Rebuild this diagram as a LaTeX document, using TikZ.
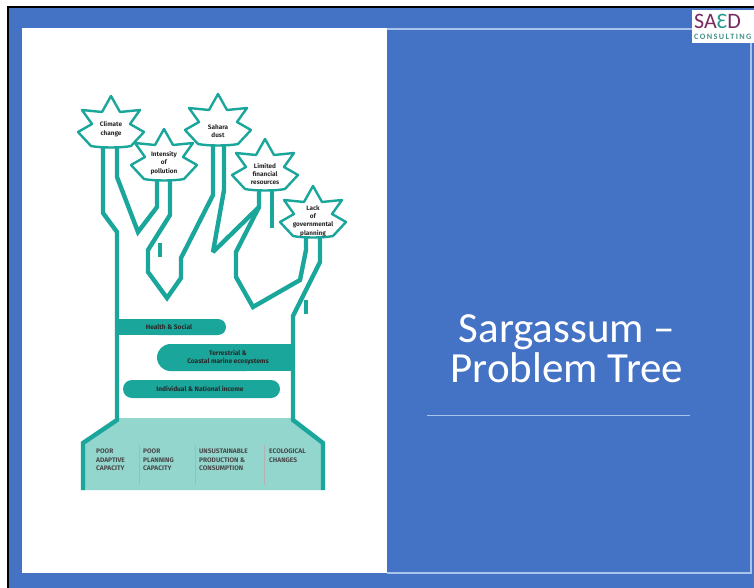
\documentclass[tikz,border=0pt]{standalone}
\usepackage{fontspec}
\setmainfont{Carlito}
\newfontfamily\treefont{Fira Sans}
\usetikzlibrary{calc}
\definecolor{slideblue}{HTML}{4472C4}
\definecolor{framelight}{HTML}{A9C4EA}
\definecolor{teal}{HTML}{1AA69B}
\definecolor{paleteal}{HTML}{92D6CE}
\definecolor{inkdark}{HTML}{2A2A2A}
\definecolor{logopurple}{HTML}{7A2A5E}
\definecolor{logoteal}{HTML}{2A9A8E}
\tikzset{
  branch/.style={draw=teal, line width=4.4pt, line join=miter, miter limit=3},
  leafline/.style={draw=teal, fill=white, line width=2.4pt, line join=round},
  bar/.style={fill=teal},
  leaftext/.style={font=\treefont\bfseries\fontsize{6.4}{8.4}\selectfont, text=inkdark, align=center, inner sep=0pt},
  bartext/.style={font=\treefont\bfseries\fontsize{6.6}{8.6}\selectfont, text=inkdark, align=center, inner sep=0pt},
  basetext/.style={font=\treefont\bfseries\fontsize{6.6}{8.3}\selectfont, text=inkdark!85, align=left, anchor=north west, inner sep=0pt},
  sep/.style={draw=gray!60, line width=0.6pt},
  titletext/.style={text=white, font=\fontsize{43}{43}\selectfont, anchor=base, inner sep=0pt}
}
% maple-like leaf outline around a centre point
\newcommand{\leafshape}[2]{%
  \path[leafline, shift={(#1,#2)}]
    (0,-33) -- (9,-17) -- (29,-19) -- (19,-5) -- (33,3) -- (20,17)
    .. controls (10,19) and (-10,19) .. (-20,17)
    -- (-33,3) -- (-19,-5) -- (-29,-19) -- (-9,-17) -- cycle;}
\begin{document}
\begin{tikzpicture}[x=1pt,y=-1pt]
\useasboundingbox (0,0) rectangle (754,588);
% slide frame
\fill[white] (0,0) rectangle (754,588);
\fill[slideblue] (9,8) rectangle (754,588);
\draw[black, line width=2pt] (8,588) -- (8,7) -- (754,7);
\fill[white] (22,28) rectangle (387,573);
\draw[framelight, line width=1.2pt] (387,29) -- (751,29) -- (751,573) -- (387,573);
% logo
\fill[white] (692,10) rectangle (760,43);
\node[anchor=base west, inner sep=0pt, text=logopurple, font=\fontsize{22}{22}\selectfont] (logoA) at (694,29) {SA\textcolor{logoteal}{Ɛ}D};
\node[anchor=base west, inner sep=0pt, text=logoteal!70!gray, font=\fontsize{8.2}{9}\selectfont\bfseries] (logoB) at (694,40) {C\,O\,N\,S\,U\,L\,T\,I\,N\,G};
% title
\node[titletext] (title1) at (567,342.5) {Sargassum –};
\node[titletext] (title2) at (567,382.5) {Problem Tree};
\draw[framelight, line width=0.8pt] (427,415) -- (690,415);

% ---- tree ----
% ground band
\fill[paleteal] (117,418) -- (293,418) -- (323,442) -- (323,490) -- (83,490) -- (83,442) -- cycle;
% trunk outlines
\draw[branch] (103,146) -- (103,213) -- (117,232) -- (117,420) -- (83,443) -- (83,490);
\draw[branch] (320,236) -- (320,262) -- (293,316) -- (293,420) -- (323,443) -- (323,490);
\draw[branch] (306,300) -- (306,314);
% inner branch outlines
\draw[branch] (117,146) -- (117,177) -- (138,232) -- (157,207) -- (157,179);
\draw[branch] (170,179) -- (170,215) -- (148,250) -- (148,272) -- (167,298) -- (181,278) -- (181,258) -- (213,195) -- (213,144);
\draw[branch] (160,243) -- (160,257);
\draw[branch] (224,144) -- (224,190) -- (213,252) -- (259,207) -- (259,189);
\draw[branch] (272,189) -- (272,228);
\draw[branch] (259,207) -- (236,252) -- (236,277) -- (253,307) -- (300,280) -- (306,250) -- (306,236);
% bars
\path[bar, rounded corners=8pt] (150,319) rectangle (226,335);
\path[bar] (115,319) rectangle (180,335);
\path[bar, rounded corners=13.5pt] (157,344) rectangle (260,371);
\path[bar] (230,344) rectangle (293,371);
\path[bar, rounded corners=9pt] (123,380) rectangle (280,398);
\node[bartext] (hs) at (169,327) {Health \& Social};
\node[bartext] (tc) at (228,357.5) {Terrestrial \&\\Coastal marine ecosystems};
\node[bartext] (ni) at (200,389) {Individual \& National income};
% leaves
\leafshape{111}{129}
\leafshape{164}{162}
\leafshape{218}{127}
\leafshape{265}{172}
\leafshape{313}{219}
\node[leaftext] (l1) at (111,129) {Climate\\change};
\node[leaftext] (l2) at (164,163) {Intensity\\of\\pollution};
\node[leaftext] (l3) at (218,131) {Sahara\\dust};
\node[leaftext] (l4) at (265,174) {Limited\\financial\\resources};
\node[leaftext] (l5) at (313,221) {Lack\\of\\governmental\\planning};
% root causes
\draw[sep] (139,445) -- (139,485);
\draw[sep] (195,445) -- (195,485);
\draw[sep] (264,445) -- (264,485);
\node[basetext] (r1) at (96,449) {POOR\\ADAPTIVE\\CAPACITY};
\node[basetext] (r2) at (143,449) {POOR\\PLANNING\\CAPACITY};
\node[basetext] (r3) at (199,449) {UNSUSTAINABLE\\PRODUCTION \&\\CONSUMPTION};
\node[basetext] (r4) at (269,449) {ECOLOGICAL\\CHANGES};
\end{tikzpicture}
\end{document}
